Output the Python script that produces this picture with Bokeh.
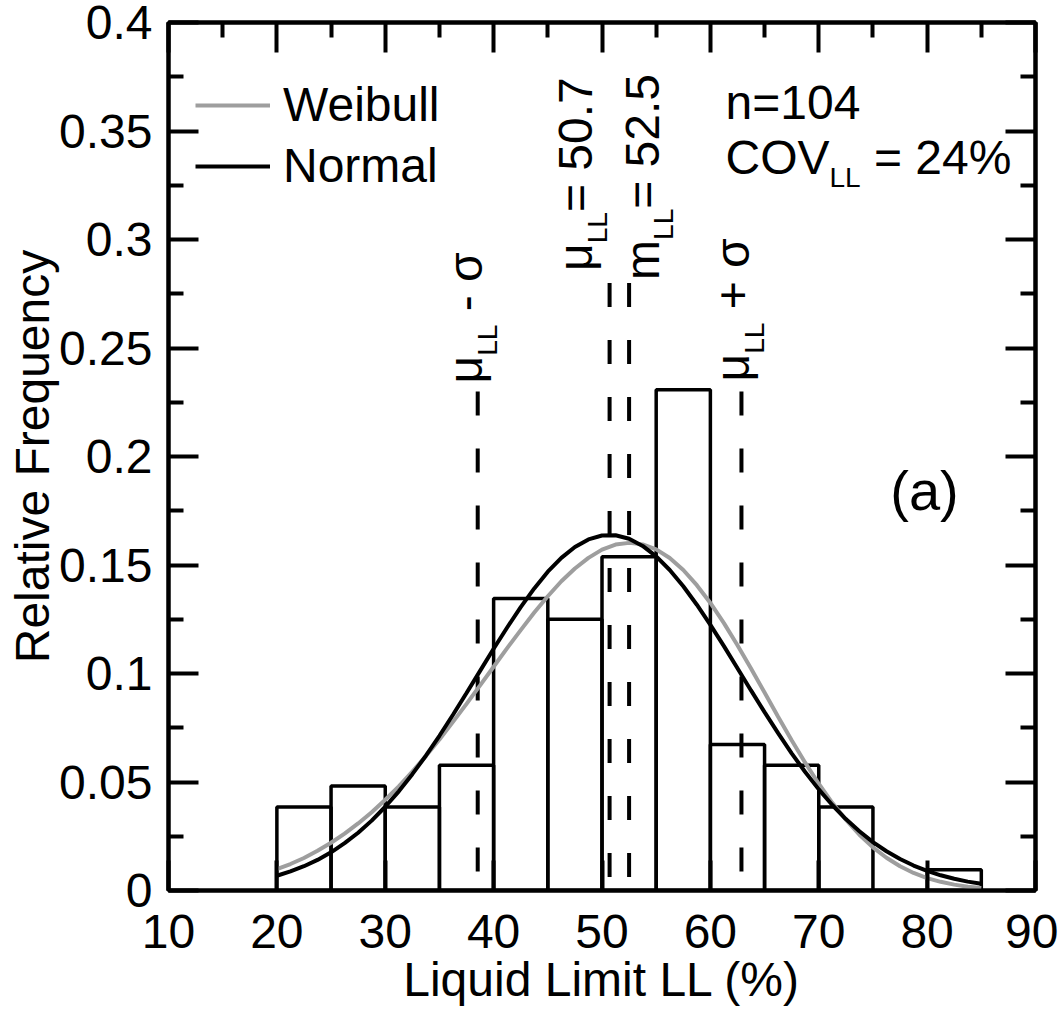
import math
from bokeh.plotting import figure
from bokeh.models import (LinearAxis, FixedTicker, Label, Legend, LegendItem, Range1d)
from bokeh.embed import file_html
from bokeh.resources import INLINE

# ---------------- data ----------------
bin_left = [20, 25, 30, 35, 40, 45, 50, 55, 60, 65, 70, 75, 80]
bin_right = [25, 30, 35, 40, 45, 50, 55, 60, 65, 70, 75, 80, 85]
rel_freq = [0.0385, 0.0481, 0.0385, 0.0577, 0.1346, 0.1250, 0.1538,
            0.2308, 0.0673, 0.0577, 0.0385, 0.0, 0.0096]

curve_x = [20, 21.25, 22.5, 23.75, 25, 26.25, 27.5, 28.75, 30, 31.25, 32.5,
           33.75, 35, 36.25, 37.5, 38.75, 40, 41.25, 42.5, 43.75, 45, 46.25,
           47.5, 48.75, 50, 51.25, 52.5, 53.75, 55, 56.25, 57.5, 58.75, 60,
           61.25, 62.5, 63.75, 65, 66.25, 67.5, 68.75, 70, 71.25, 72.5, 73.75,
           75, 76.25, 77.5, 78.75, 80, 81.25, 82.5, 83.75, 85]
weibull_y = [0.0098, 0.0122, 0.0150, 0.0183, 0.0220, 0.0262, 0.0309, 0.0361,
             0.0418, 0.0480, 0.0548, 0.0620, 0.0696, 0.0777, 0.0860, 0.0945,
             0.1031, 0.1117, 0.1200, 0.1281, 0.1356, 0.1425, 0.1484, 0.1533,
             0.1571, 0.1594, 0.1602, 0.1595, 0.1572, 0.1532, 0.1477, 0.1407,
             0.1325, 0.1232, 0.1130, 0.1023, 0.0912, 0.0801, 0.0692, 0.0589,
             0.0492, 0.0404, 0.0326, 0.0257, 0.0199, 0.0151, 0.0112, 0.0081,
             0.0057, 0.0040, 0.0027, 0.0017, 0.0011]
normal_y = [0.0068, 0.0088, 0.0112, 0.0141, 0.0176, 0.0218, 0.0266, 0.0322,
            0.0386, 0.0457, 0.0536, 0.0621, 0.0713, 0.0810, 0.0910, 0.1012,
            0.1114, 0.1212, 0.1306, 0.1392, 0.1469, 0.1533, 0.1583, 0.1618,
            0.1636, 0.1637, 0.1621, 0.1588, 0.1540, 0.1477, 0.1402, 0.1317,
            0.1224, 0.1126, 0.1024, 0.0922, 0.0822, 0.0725, 0.0632, 0.0546,
            0.0466, 0.0394, 0.0329, 0.0273, 0.0223, 0.0181, 0.0145, 0.0115,
            0.0090, 0.0070, 0.0054, 0.0041, 0.0031]

x_tick_values = [10, 20, 30, 40, 50, 60, 70, 80, 90]
x_tick_labels = ["10", "20", "30", "40", "50", "60", "70", "80", "90"]
x_minor_values = [15, 25, 35, 45, 55, 65, 75, 85]
y_tick_values = [0, 0.05, 0.1, 0.15, 0.2, 0.25, 0.3, 0.35, 0.4]
y_tick_labels = ["0", "0.05", "0.1", "0.15", "0.2", "0.25", "0.3", "0.35", "0.4"]
y_minor_values = [0.025, 0.075, 0.125, 0.175, 0.225, 0.275, 0.325, 0.375]

n_samples = 104
cov_ll = 0.24
mean_ll = 50.7
median_ll = 52.5
sd_ll = cov_ll * mean_ll

FONT = "Liberation Sans"
GRAY = "#9e9e9e"
FS = 48           # main text size (px)
SUB = 28          # subscript size (px)
NBSP = "\u00a0"
BASE_FIX = 0.37   # Bokeh's alphabetic baseline sits this many em lower than expected

# ---------------- figure ----------------
p = figure(width=1058, height=1010,
           x_range=Range1d(10, 90), y_range=Range1d(0, 0.4),
           output_backend="svg", toolbar_location=None,
           min_border_left=168, min_border_right=23,
           min_border_top=22, min_border_bottom=120,
           background_fill_color="white", border_fill_color="white")
p.xgrid.visible = False
p.ygrid.visible = False
p.outline_line_color = "black"
p.outline_line_width = 4


def style_axis(ax, minor=True, labels=True):
    ax.axis_line_width = 4
    ax.axis_line_color = "black"
    ax.major_tick_in = 30
    ax.major_tick_out = 0
    ax.major_tick_line_width = 4
    ax.minor_tick_in = 15 if minor else 0
    ax.minor_tick_out = 0
    ax.minor_tick_line_width = 4
    ax.major_label_text_font = FONT
    ax.major_label_text_font_size = f"{FS}px"
    ax.major_label_text_color = "black"
    ax.major_label_text_line_height = 1.0
    ax.major_label_standoff = 16 if labels else 0


xb = p.xaxis[0]
xb.ticker = FixedTicker(ticks=x_tick_values)
xb.major_label_overrides = dict(zip(x_tick_values, x_tick_labels))
style_axis(xb, minor=False)
xb.major_label_standoff = 24
xb.axis_label = "Liquid Limit LL (%)"
xb.axis_label_text_font = FONT
xb.axis_label_text_font_size = f"{FS}px"
xb.axis_label_text_font_style = "normal"
xb.axis_label_text_color = "black"
xb.axis_label_text_line_height = 1.0
xb.axis_label_standoff = 2

yl = p.yaxis[0]
yl.ticker = FixedTicker(ticks=y_tick_values, minor_ticks=y_minor_values)
yl.major_label_overrides = dict(zip(y_tick_values, y_tick_labels))
style_axis(yl)
yl.axis_label = "Relative Frequency"
yl.axis_label_text_font = FONT
yl.axis_label_text_font_size = f"{FS}px"
yl.axis_label_text_font_style = "normal"
yl.axis_label_text_color = "black"
yl.axis_label_text_line_height = 1.0
yl.axis_label_standoff = -3

xt = LinearAxis(ticker=FixedTicker(ticks=x_tick_values, minor_ticks=x_minor_values),
                major_label_overrides={v: "" for v in x_tick_values})
style_axis(xt, labels=False)
p.add_layout(xt, "above")

yr = LinearAxis(ticker=FixedTicker(ticks=y_tick_values, minor_ticks=y_minor_values),
                major_label_overrides={v: "" for v in y_tick_values})
style_axis(yr, labels=False)
p.add_layout(yr, "right")

# ---------------- histogram ----------------
p.quad(left=bin_left, right=bin_right, bottom=0, top=rel_freq,
       fill_color=None, line_color="black", line_width=3.5)

# ---------------- statistic markers ----------------
marker_x = [mean_ll - sd_ll, mean_ll, median_ll, mean_ll + sd_ll]
marker_top = [0.23, 0.28, 0.28, 0.23]
p.segment(x0=marker_x, y0=marker_top, x1=marker_x, y1=[0] * 4,
          line_color="black", line_width=4, line_dash="24 33")

# ---------------- fitted curves ----------------
rw = p.line(curve_x, weibull_y, line_color=GRAY, line_width=4)
rn = p.line(curve_x, normal_y, line_color="black", line_width=4)

legend = Legend(items=[LegendItem(label="Weibull", renderers=[rw]),
                       LegendItem(label="Normal", renderers=[rn])],
                location=(27, 697), margin=0, padding=0, spacing=6,
                glyph_width=75, glyph_height=20, label_height=20,
                label_standoff=13, border_line_color=None,
                background_fill_alpha=0,
                label_text_font=FONT, label_text_font_size=f"{FS}px",
                label_text_color="black")
p.add_layout(legend)

# ---------------- rotated annotations ----------------
EM = {"μ": 0.576, "m": 0.833, "L": 0.556, " ": 0.278, NBSP: 0.278, "-": 0.333,
      "=": 0.584, "+": 0.584, "σ": 0.6, ".": 0.278}
for d in "0123456789":
    EM[d] = 0.556


def adv(s, size):
    return sum(EM.get(c, 0.556) for c in s) * size


def rotated_label(x, y, dx, dy, pieces):
    """pieces: (text, size, shift-right-of-baseline)"""
    along = 0.0
    for txt, size, shift in pieces:
        p.add_layout(Label(x=x, y=y,
                           x_offset=dx + shift - BASE_FIX * size,
                           y_offset=dy + along,
                           text=txt, angle=math.pi / 2, angle_units="rad",
                           text_font=FONT, text_font_size=f"{size}px",
                           text_color="black", text_align="left",
                           text_baseline="alphabetic"))
        along += adv(txt, size)


rotated_label(marker_x[0], marker_top[0], 6, 8,
              [("μ", FS, 0), ("LL", SUB, 14), (NBSP + "- σ", FS, 0)])
rotated_label(marker_x[1], marker_top[1], -16, 12,
              [("μ", FS, 0), ("LL", SUB, 14), (f"= {mean_ll}", FS, 0)])
rotated_label(marker_x[2], marker_top[2], 31, 3,
              [("m", FS, 0), ("LL", SUB, 14), (f"= {median_ll}", FS, 0)])
rotated_label(marker_x[3], marker_top[3], 9, 10,
              [("μ", FS, 0), ("LL", SUB, 14), (NBSP + "+ σ", FS, 0)])


# ---------------- horizontal annotations ----------------
def hlabel(x, y, txt, size, dx=0, dy=0):
    p.add_layout(Label(x=x, y=y, x_offset=dx, y_offset=dy + BASE_FIX * size,
                       text=txt, text_font=FONT, text_font_size=f"{size}px",
                       text_color="black", text_baseline="alphabetic"))


hlabel(61.4, 0.355, f"n={n_samples}", FS)
hlabel(61.4, 0.3295, "COV", FS)
hlabel(61.4, 0.3295, "LL", SUB, dx=104, dy=-12)
hlabel(61.4, 0.3295, f"{NBSP}= {round(cov_ll * 100)}%", FS, dx=135)
hlabel(76.6, 0.175, "(a)", 56)

open("out.html", "w").write(file_html(p, INLINE))
